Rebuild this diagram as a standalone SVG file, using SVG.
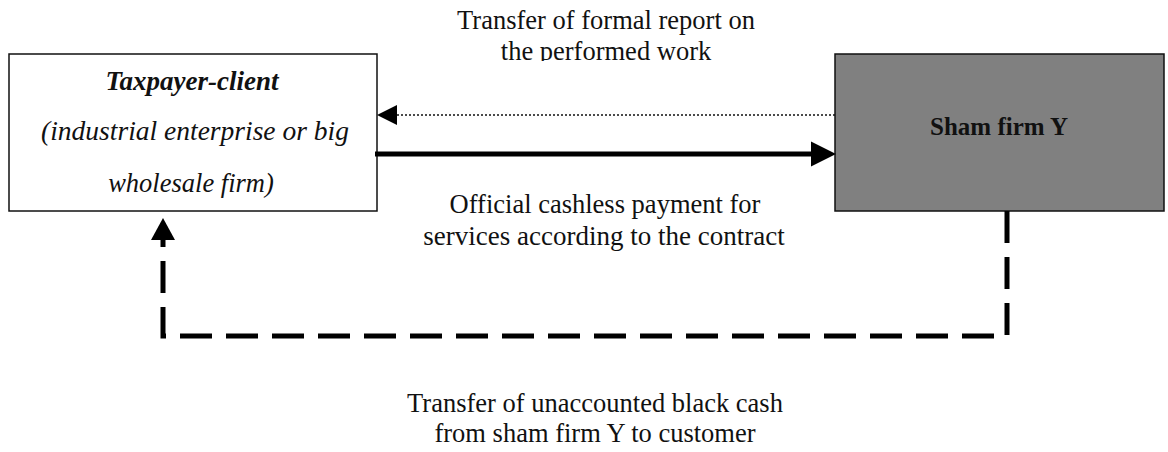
<svg xmlns="http://www.w3.org/2000/svg" width="1168" height="452" viewBox="0 0 1168 452">
<style>
text{font-size:27px;fill:#111;text-anchor:middle}
.bi{font-weight:bold;font-style:italic}
.it{font-style:italic}
.b{font-weight:bold}
.box{stroke:#111;stroke-width:1.5}
</style>
<defs>
<clipPath id="topclip"><rect x="0" y="0" width="1168" height="61"/></clipPath>
</defs>
<rect width="1168" height="452" fill="#fff"/>
<g id="taxpayer">
<rect class="box" x="9" y="54" width="368" height="157" fill="#fff"/>
<text class="bi" x="192" y="90" font-family="'Liberation Serif', serif" font-size="27">Taxpayer-client</text>
<text class="it" x="195" y="140" font-family="'Liberation Serif', serif" style="font-size:27.5px">(industrial enterprise or big</text>
<text class="it" x="191" y="192" font-family="'Liberation Serif', serif" style="font-size:26.5px">wholesale firm)</text>
</g>
<g id="shamfirm">
<rect class="box" x="835" y="54" width="329" height="157" fill="#808080"/>
<text class="b" x="999" y="135" font-family="'Liberation Serif', serif" style="font-size:25px">Sham firm Y</text>
</g>
<g id="connectors">
<line x1="835" y1="115" x2="395" y2="115" stroke="#111" stroke-width="1.5" stroke-dasharray="2 2"/>
<polygon points="377,115 397,105 397,125" fill="#000"/>
<line x1="375" y1="154" x2="812" y2="154" stroke="#000" stroke-width="5"/>
<polygon points="836,154 811,141.5 811,166.5" fill="#000"/>
<polyline points="1007,211 1007,336 163,336 163,240" fill="none" stroke="#000" stroke-width="5" stroke-dasharray="32 14"/>
<polygon points="163,218 151,240 175,240" fill="#000"/>
</g>
<g id="labels">
<g clip-path="url(#topclip)">
<text x="606" y="29" font-family="'Liberation Serif', serif" style="font-size:26.5px">Transfer of formal report on</text>
<text x="606" y="60" font-family="'Liberation Serif', serif" style="font-size:26.5px">the performed work</text>
</g>
<text x="605" y="213" font-family="'Liberation Serif', serif" style="font-size:26.5px">Official cashless payment for</text>
<text x="604" y="245" font-family="'Liberation Serif', serif">services according to the contract</text>
<text x="595" y="412" font-family="'Liberation Serif', serif" style="font-size:26.5px">Transfer of unaccounted black cash</text>
<text x="595" y="442" font-family="'Liberation Serif', serif" style="font-size:26.5px">from sham firm Y to customer</text>
</g>
</svg>
